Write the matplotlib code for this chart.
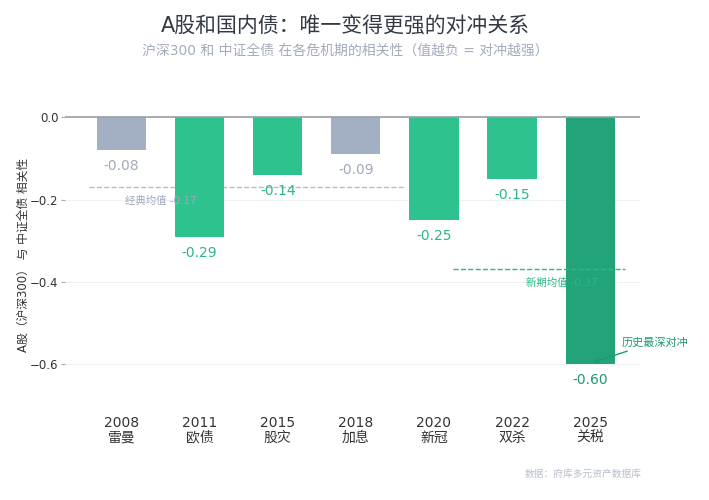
import matplotlib.pyplot as plt

plt.rcParams['font.family'] = ['DejaVu Sans', 'Noto Sans CJK SC']
plt.rcParams['axes.unicode_minus'] = True

# Data
years = ["2008", "2011", "2015", "2018", "2020", "2022", "2025"]
events = ["雷曼", "欧债", "股灾", "加息", "新冠", "双杀", "关税"]
corr = [-0.08, -0.29, -0.14, -0.09, -0.25, -0.15, -0.60]
bar_colors = ["#a3afc2", "#2ec28e", "#2ec28e", "#a3afc2", "#2ec28e", "#2ec28e", "#22a37a"]
label_colors = ["#a0aabb", "#2bb885", "#2bb885", "#a0aabb", "#2bb885", "#2bb885", "#1f9a6f"]
classic_mean = -0.17
new_mean = -0.37

fig = plt.figure(figsize=(7.09, 5.0), dpi=100)
ax = fig.add_axes([0.092, 0.19, 0.811, 0.60])

x = list(range(len(years)))
ax.bar(x, corr, width=0.63, color=bar_colors, zorder=3)

for xi, v, c in zip(x, corr, label_colors):
    ax.text(xi, v - 0.022, f"{v:.2f}", ha="center", va="top", fontsize=10, color=c, zorder=5)

# mean lines
ax.plot([-0.42, 3.63], [classic_mean, classic_mean], ls="--", lw=1, color="#b4bccb", zorder=2)
ax.text(0.05, classic_mean - 0.02, f"经典均值 {classic_mean:.2f}", ha="left", va="top",
        fontsize=7.5, color="#a0aabb", zorder=4)
ax.plot([4.24, 6.44], [new_mean, new_mean], ls="--", lw=1, color="#2bb885", zorder=4)
ax.text(6.10, new_mean - 0.02, f"新期均值 {new_mean:.2f}", ha="right", va="top",
        fontsize=7.5, color="#2bb885", zorder=4)

ax.annotate("历史最深对冲", xy=(6.03, -0.597), xytext=(6.40, -0.56),
            fontsize=8, color="#1f9a6f", ha="left", va="bottom",
            arrowprops=dict(arrowstyle="-|>", color="#1f9a6f", lw=1, mutation_scale=8,
                            relpos=(0.25, 0), shrinkA=2, shrinkB=0), zorder=6)

ax.axhline(0, color="#9aa0a8", lw=1.2, zorder=4)
ax.set_xlim(-0.72, 6.64)
ax.set_ylim(-0.7, 0.03)
ax.set_yticks([0.0, -0.2, -0.4, -0.6])
ax.set_yticklabels(["0.0", "\u22120.2", "\u22120.4", "\u22120.6"])
ax.grid(axis="y", color="#eef0f3", lw=0.8, zorder=0)
ax.set_xticks(x)
ax.set_xticklabels([f"{y}\n{e}" for y, e in zip(years, events)], fontsize=10, color="#333333",
                   linespacing=1.05)
ax.tick_params(axis="x", length=0, pad=8)
ax.tick_params(axis="y", length=3, pad=2, color="#aaaaaa", labelsize=8.5, labelcolor="#333333")
for s in ax.spines.values():
    s.set_visible(False)
ax.set_ylabel("A股（沪深300） 与 中证全债 相关性", fontsize=8.5, color="#333333")
ax.yaxis.set_label_coords(-0.062, 0.5)

fig.text(0.487, 0.948, "A股和国内债：唯一变得更强的对冲关系", ha="center", va="center",
         fontsize=15, color="#333a45")
fig.text(0.487, 0.898, "沪深300 和 中证全债 在各危机期的相关性（值越负 = 对冲越强）", ha="center",
         va="center", fontsize=10, color="#a3acbb")
fig.text(0.905, 0.053, "数据：府库多元资产数据库", ha="right", va="center", fontsize=7, color="#b8bfca")

fig.savefig("out.png", dpi=100)
